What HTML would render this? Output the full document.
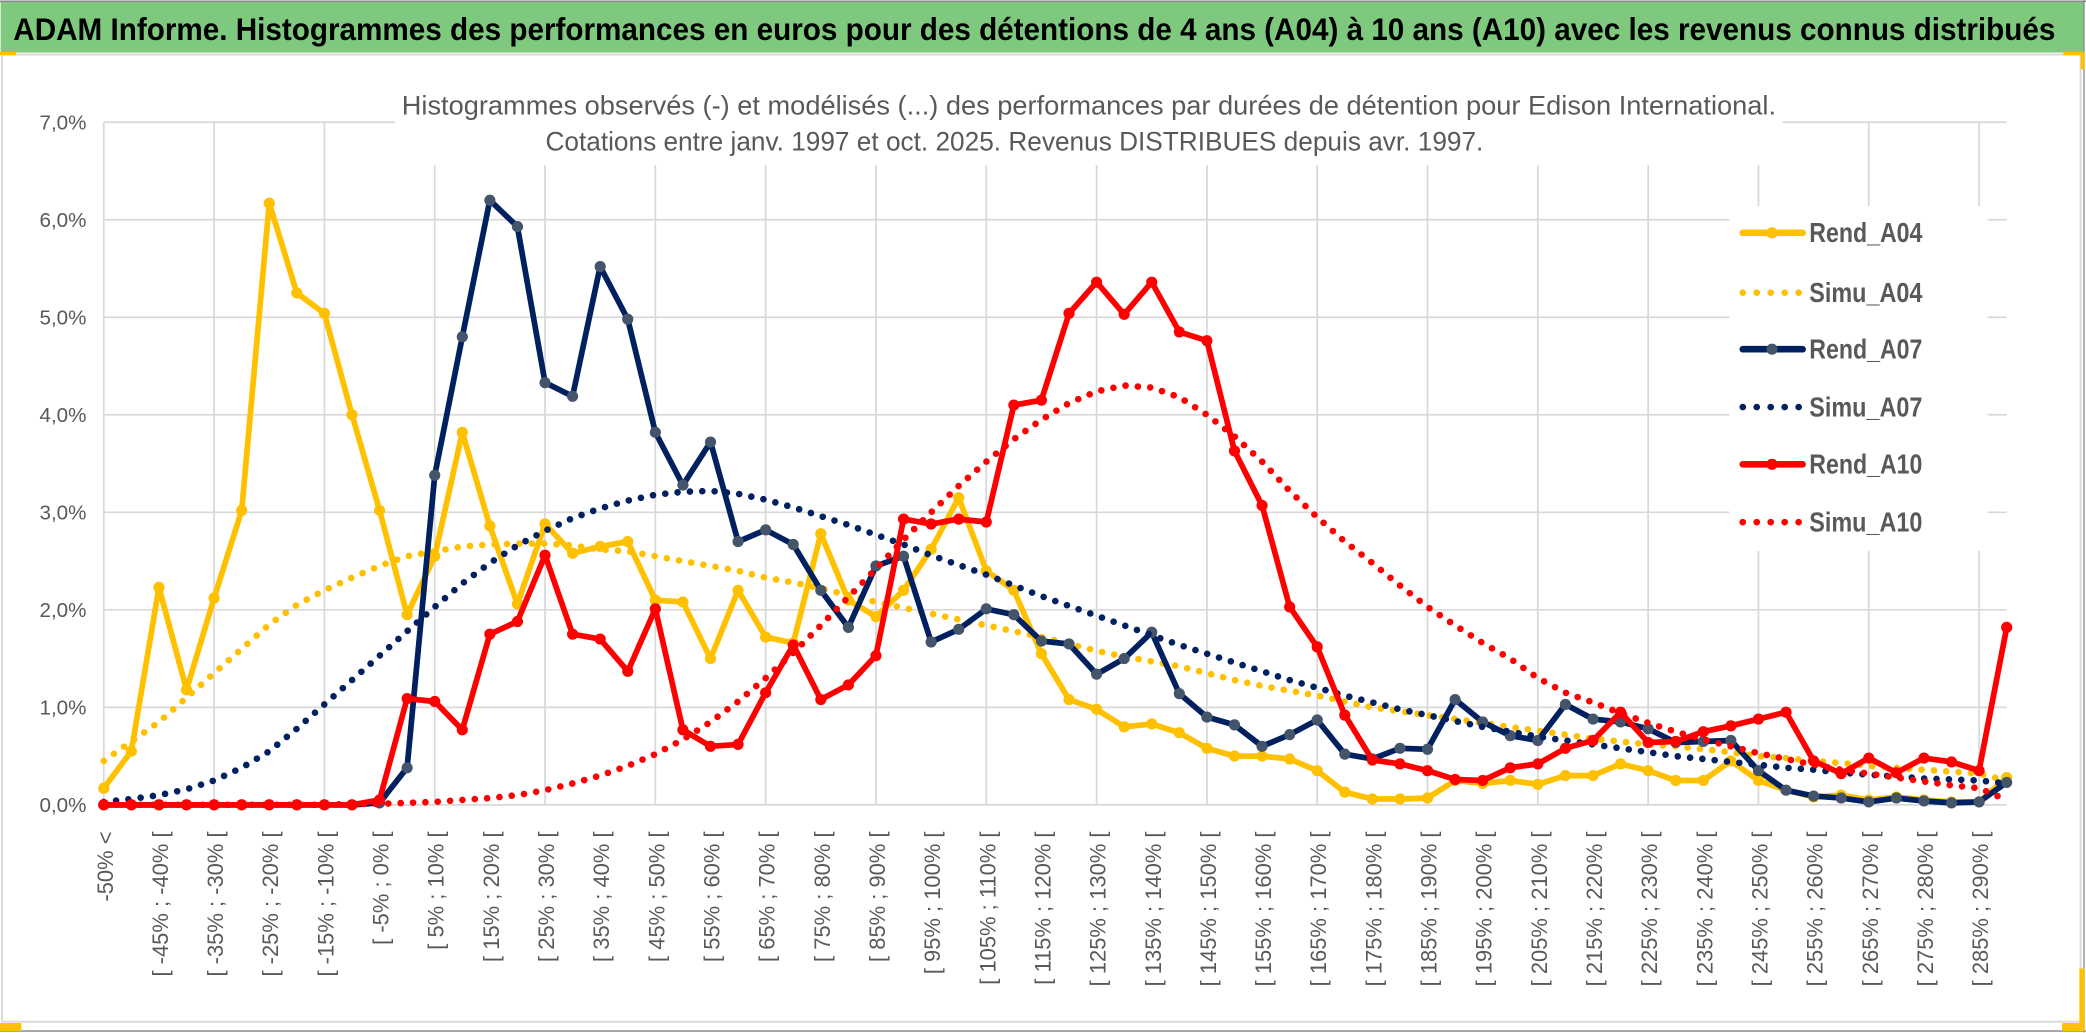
<!DOCTYPE html>
<html><head><meta charset="utf-8"><title>ADAM Informe - Edison International</title>
<style>
html,body{margin:0;padding:0;background:#fff;}
svg{display:block;}
text{font-family:"Liberation Sans",sans-serif;}
</style></head>
<body>
<svg id="chart" width="2086" height="1033" viewBox="0 0 1568 776.5" preserveAspectRatio="none" xmlns="http://www.w3.org/2000/svg">
  <rect x="0" y="0" width="1568" height="776.5" fill="#fff"/>
  <rect x="0.5" y="1" width="1566" height="38.5" fill="#7FC97E"/>
  <line x1="0" y1="1" x2="1568" y2="1" stroke="#8a8a8a" stroke-width="1.2"/>
  <text x="10" y="30" font-size="24" font-weight="bold" fill="#000" textLength="1535" lengthAdjust="spacingAndGlyphs">ADAM Informe. Histogrammes des performances en euros pour des détentions de 4 ans (A04) à 10 ans (A10) avec les revenus connus distribués</text>
  <rect x="1.5" y="41" width="1562.5" height="727" fill="none" stroke="#d9d9d9" stroke-width="1.5"/>
  <line x1="0" y1="775" x2="1568" y2="775" stroke="#8a8a8a" stroke-width="1.2"/>
  <line x1="1566.5" y1="0" x2="1566.5" y2="776" stroke="#8a8a8a" stroke-width="1"/>
  <rect x="0" y="39" width="12" height="2.5" fill="#FFC000"/>
  <rect x="1551" y="39" width="16" height="2.5" fill="#FFC000"/>
  <rect x="1564" y="39" width="3" height="13" fill="#FFC000"/>
  <rect x="0" y="769" width="16" height="6" fill="#FFC000"/>
  <rect x="1563" y="728" width="4" height="47" fill="#FFC000"/>
  <rect x="1550" y="769" width="17" height="6" fill="#FFC000"/>
  <g id="grid"></g>
  <g id="ylabels"></g>
  <g id="xlabels"></g>
  <g id="series"></g>
  <rect x="297" y="50" width="1043" height="74" fill="#fff"/>
  <text x="302" y="86" font-size="20" fill="#595959" textLength="1033" lengthAdjust="spacingAndGlyphs">Histogrammes observés (-) et modélisés (...) des performances par durées de détention pour Edison International.</text>
  <text x="410" y="113" font-size="20" fill="#595959" textLength="705" lengthAdjust="spacingAndGlyphs">Cotations entre janv. 1997 et oct. 2025. Revenus DISTRIBUES depuis avr. 1997.</text>
  <g id="legend"></g>
</svg>
<script>
const categories = ["-50% <","[ -50% ; -45% [","[ -45% ; -40% [","[ -40% ; -35% [","[ -35% ; -30% [","[ -30% ; -25% [","[ -25% ; -20% [","[ -20% ; -15% [","[ -15% ; -10% [","[ -10% ; -5% [","[ -5% ; 0% [","[ 0% ; 5% [","[ 5% ; 10% [","[ 10% ; 15% [","[ 15% ; 20% [","[ 20% ; 25% [","[ 25% ; 30% [","[ 30% ; 35% [","[ 35% ; 40% [","[ 40% ; 45% [","[ 45% ; 50% [","[ 50% ; 55% [","[ 55% ; 60% [","[ 60% ; 65% [","[ 65% ; 70% [","[ 70% ; 75% [","[ 75% ; 80% [","[ 80% ; 85% [","[ 85% ; 90% [","[ 90% ; 95% [","[ 95% ; 100% [","[ 100% ; 105% [","[ 105% ; 110% [","[ 110% ; 115% [","[ 115% ; 120% [","[ 120% ; 125% [","[ 125% ; 130% [","[ 130% ; 135% [","[ 135% ; 140% [","[ 140% ; 145% [","[ 145% ; 150% [","[ 150% ; 155% [","[ 155% ; 160% [","[ 160% ; 165% [","[ 165% ; 170% [","[ 170% ; 175% [","[ 175% ; 180% [","[ 180% ; 185% [","[ 185% ; 190% [","[ 190% ; 195% [","[ 195% ; 200% [","[ 200% ; 205% [","[ 205% ; 210% [","[ 210% ; 215% [","[ 215% ; 220% [","[ 220% ; 225% [","[ 225% ; 230% [","[ 230% ; 235% [","[ 235% ; 240% [","[ 240% ; 245% [","[ 245% ; 250% [","[ 250% ; 255% [","[ 255% ; 260% [","[ 260% ; 265% [","[ 265% ; 270% [","[ 270% ; 275% [","[ 275% ; 280% [","[ 280% ; 285% [","[ 285% ; 290% [","[ 290% ; 295% ["];
const yTicks = [0,1,2,3,4,5,6,7];
const yTickLabels = ["0,0%","1,0%","2,0%","3,0%","4,0%","5,0%","6,0%","7,0%"];
const rendA04 = [0.17,0.55,2.23,1.18,2.12,3.02,6.17,5.25,5.04,4.00,3.02,1.95,2.55,3.82,2.86,2.06,2.88,2.58,2.65,2.70,2.10,2.08,1.50,2.20,1.72,1.66,2.78,2.10,1.93,2.20,2.62,3.15,2.40,2.20,1.55,1.08,0.98,0.80,0.83,0.74,0.58,0.50,0.50,0.47,0.35,0.13,0.06,0.06,0.07,0.25,0.22,0.25,0.21,0.30,0.30,0.42,0.35,0.25,0.25,0.45,0.25,0.15,0.08,0.10,0.05,0.08,0.05,0.03,0.03,0.28];
const simuA04 = [0.45,0.65,0.85,1.10,1.35,1.60,1.85,2.05,2.20,2.33,2.45,2.55,2.60,2.65,2.67,2.68,2.68,2.66,2.62,2.60,2.55,2.50,2.45,2.40,2.33,2.28,2.22,2.15,2.08,2.02,1.96,1.90,1.84,1.78,1.72,1.65,1.58,1.52,1.47,1.42,1.35,1.28,1.22,1.17,1.12,1.06,1.00,0.96,0.92,0.88,0.84,0.80,0.76,0.72,0.68,0.65,0.62,0.60,0.57,0.54,0.50,0.48,0.45,0.43,0.40,0.38,0.36,0.34,0.32,0.25];
const rendA07 = [0,0,0,0,0,0,0,0,0,0,0.02,0.38,3.38,4.80,6.20,5.93,4.33,4.19,5.52,4.98,3.82,3.28,3.72,2.70,2.82,2.67,2.20,1.82,2.45,2.55,1.67,1.80,2.01,1.95,1.68,1.65,1.34,1.50,1.77,1.14,0.90,0.82,0.60,0.72,0.87,0.52,0.47,0.58,0.57,1.08,0.85,0.71,0.66,1.03,0.88,0.85,0.78,0.64,0.65,0.66,0.35,0.15,0.09,0.07,0.03,0.07,0.04,0.02,0.03,0.23];
const simuA07 = [0.03,0.06,0.10,0.16,0.25,0.38,0.55,0.78,1.03,1.28,1.53,1.78,2.03,2.27,2.48,2.66,2.81,2.94,3.04,3.12,3.18,3.21,3.22,3.19,3.13,3.05,2.96,2.87,2.77,2.67,2.56,2.46,2.36,2.25,2.14,2.04,1.94,1.84,1.74,1.64,1.55,1.46,1.37,1.28,1.20,1.12,1.05,0.98,0.92,0.86,0.80,0.75,0.70,0.66,0.62,0.58,0.54,0.50,0.47,0.44,0.41,0.38,0.36,0.33,0.31,0.29,0.27,0.26,0.25,0.22];
const rendA10 = [0,0,0,0,0,0,0,0,0,0,0.05,1.09,1.06,0.77,1.75,1.88,2.56,1.75,1.70,1.37,2.01,0.77,0.60,0.62,1.15,1.64,1.08,1.23,1.53,2.93,2.88,2.93,2.90,4.10,4.15,5.04,5.36,5.03,5.36,4.85,4.76,3.63,3.07,2.03,1.62,0.92,0.46,0.42,0.35,0.26,0.25,0.38,0.42,0.58,0.66,0.95,0.64,0.65,0.75,0.81,0.88,0.95,0.45,0.32,0.48,0.33,0.48,0.44,0.35,1.82];
const simuA10 = [0,0,0,0,0,0,0,0,0,0.01,0.01,0.02,0.03,0.05,0.07,0.10,0.15,0.22,0.30,0.40,0.52,0.67,0.85,1.06,1.30,1.56,1.84,2.13,2.42,2.72,3.00,3.27,3.52,3.75,3.95,4.12,4.24,4.30,4.28,4.18,4.00,3.78,3.52,3.22,2.95,2.70,2.48,2.25,2.03,1.84,1.66,1.50,1.30,1.15,1.05,0.94,0.84,0.75,0.67,0.60,0.53,0.47,0.41,0.36,0.32,0.28,0.24,0.20,0.17,0.05];

const NS = "http://www.w3.org/2000/svg";
const X0 = 78, XSTEP = 20.73, Y0 = 605, YUNIT = 73.3;
function xPos(i){ return X0 + i * XSTEP; }
function yPos(v){ return Y0 - v * YUNIT; }
function mk(tag, attrs, parent){
  const el = document.createElementNS(NS, tag);
  for (const k in attrs) el.setAttribute(k, attrs[k]);
  parent.appendChild(el);
  return el;
}
const grid = document.getElementById('grid');
const yl = document.getElementById('ylabels');
const xl = document.getElementById('xlabels');
const xEnd = xPos(categories.length - 1);
yTicks.forEach((t, k) => {
  const ln = mk('line', {x1: X0, x2: xEnd, y1: yPos(t), y2: yPos(t), stroke: '#d9d9d9', 'stroke-width': 1.3}, grid);
  
  
  const tx = mk('text', {x: 65, y: yPos(t) + 5.5, 'font-size': 15.5, fill: '#595959', 'text-anchor': 'end'}, yl);
  tx.textContent = yTickLabels[k];
  
  
});
categories.forEach((c, i) => {
  if (i % 4 === 0) {
    const ln = mk('line', {x1: xPos(i), x2: xPos(i), y1: yPos(yTicks[yTicks.length-1]), y2: Y0, stroke: '#d9d9d9', 'stroke-width': 1.3}, grid);
    
    
  }
  if (i % 2 === 0) {
    const x = xPos(i) + 1, y = 625;
    const tx = mk('text', {x: x, y: y, 'font-size': 16.5, fill: '#595959', 'text-anchor': 'end', dy: '0.35em', transform: 'rotate(-90 ' + x + ' ' + y + ')'}, xl);
    tx.textContent = c;
    
    
  }
});
const seriesG = document.getElementById('series');
function pts(arr){ return arr.map((v, i) => xPos(i).toFixed(1) + ',' + yPos(v).toFixed(1)).join(' '); }
function dotted(arr, color, name){
  const p = mk('polyline', {points: pts(arr), fill: 'none', stroke: color, 'stroke-width': 5, 'stroke-linecap': 'round', 'stroke-dasharray': '0 9.3'}, seriesG);
  
  
}
function solid(arr, color, mcolor, name){
  const g = mk('g', {}, seriesG);
  
  
  const p = mk('polyline', {points: pts(arr), fill: 'none', stroke: color, 'stroke-width': 4.3, 'stroke-linejoin': 'round'}, g);
  
  
  arr.forEach((v, i) => {
    const c = mk('circle', {cx: xPos(i), cy: yPos(v), r: 4.2, fill: mcolor}, g);
    
    
  });
}
solid(rendA04, '#FFC000', '#FFC000', 'rend-a04');
dotted(simuA04, '#FFC000', 'simu-a04');
solid(rendA07, '#002060', '#44546A', 'rend-a07');
dotted(simuA07, '#002060', 'simu-a07');
solid(rendA10, '#FF0000', '#FF0000', 'rend-a10');
dotted(simuA10, '#FF0000', 'simu-a10');

const legendNames = ["Rend_A04","Simu_A04","Rend_A07","Simu_A07","Rend_A10","Simu_A10"];
const legendColors = ["#FFC000","#FFC000","#002060","#002060","#FF0000","#FF0000"];
const legendMarkers = ["#FFC000",null,"#44546A",null,"#FF0000",null];
const legendY = [175,220,262.5,306,349,392.5];
const lg = document.getElementById('legend');
const bg = mk('rect', {x: 1300, y: 155, width: 194, height: 259, fill: '#fff'}, lg);


legendNames.forEach((n, k) => {
  const g = mk('g', {}, lg);
  
  
  const y = legendY[k];
  if (legendMarkers[k]) {
    mk('line', {x1: 1310, x2: 1355, y1: y, y2: y, stroke: legendColors[k], 'stroke-width': 5, 'stroke-linecap': 'round'}, g);
    mk('circle', {cx: 1332, cy: y, r: 4.2, fill: legendMarkers[k]}, g);
  } else {
    mk('line', {x1: 1310, x2: 1355, y1: y, y2: y, stroke: legendColors[k], 'stroke-width': 5, 'stroke-linecap': 'round', 'stroke-dasharray': '0 10.5'}, g);
  }
  const t = mk('text', {x: 1360, y: y + 7, 'font-size': 21, 'font-weight': '600', fill: '#595959', textLength: 85, lengthAdjust: 'spacingAndGlyphs'}, g);
  t.textContent = n;
});
</script>
</body></html>
